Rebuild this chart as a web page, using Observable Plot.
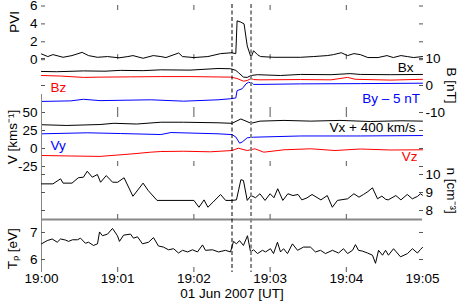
<!DOCTYPE html>
<html><head><meta charset="utf-8">
<script src="https://cdn.jsdelivr.net/npm/d3@7"></script>
<script src="https://cdn.jsdelivr.net/npm/@observablehq/plot@0.6"></script>
<style>
html,body{margin:0;padding:0;background:#fff;}
#chart{position:relative;width:463px;height:308px;overflow:hidden;background:#fff;}
#chart svg{position:absolute;left:0;top:0;}
</style></head><body><div id="chart"></div>
<script>
// ---- data (time in seconds after 19:00:00 UT, 01 Jun 2007) ----
const pviTime  = [0,5,9,17,24,28,32,37,44,52,61,68,72,80,88,94,98,108,111,120,131,141,150,153,154,157,159.5,162,165,167,170,172.5,183,204,214,225,230,236,241,246,251,257,265,272,277,283,288,293,300];
const pviValue = [0.64,0.35,0.57,0.27,0.46,0.64,0.82,0.46,0.27,0.35,0.21,0.35,0.46,0.16,0.46,0.35,0.24,0.75,0.35,0.24,0.35,0.68,0.78,0.67,4.34,4.2,4.0,1.54,0.24,1.0,0.57,0.35,0.27,0.27,0.35,0.46,0.57,0.78,0.46,0.68,0.57,0.24,0.24,0.46,0.24,0.46,0.35,0.24,0.35];

const bxTime  = [0,12,33,50,62,80,94,117,139,149,153,155,159,162,165,170,188,204,228,243,251,275,300];
const bxValue = [5.2,5.1,5.4,5.3,5.6,5.5,5.8,5.7,6.3,6.2,5.6,4.8,3.1,3.0,3.7,4.0,3.7,4.1,4.0,4.4,4.1,4.0,4.1];
const bzTime  = [0,15,33,46,70,94,117,149,154,159,162,165,167,172,204,228,241,247,275,300];
const bzValue = [3.7,3.5,3.0,3.1,3.2,3.3,3.3,3.1,2.6,1.6,1.85,2.6,2.2,2.1,2.2,2.1,3.0,2.3,2.0,2.3];
const byTime  = [0,23,33,46,86,112,139,149,153,154,158,161,163,166,167,172,204,251,300];
const byValue = [-5.9,-5.7,-5.1,-5.6,-5.3,-5.8,-5.3,-4.9,-4.6,-1.9,-1.2,0.6,1.2,0.85,0.4,0.4,0.6,0.7,0.85]; // By - 5 nT

const vxTime  = [0,20,46,57,75,94,112,139,150,157,165,172,191,212,235,259,283,300];
const vxValue = [33,32,33.3,35,34,36.5,36.5,35.7,35,41,35,38,39,38,39,37.5,38.5,38]; // Vx + 400 km/s
const vyTime  = [0,36,62,94,102,139,150,153,156,158,162,167,204,251,300];
const vyValue = [20.4,21.8,20.8,19.4,22.2,20.4,19.3,16,7.4,9,14.9,15.7,17.4,17.4,18];
const vzTime  = [0,23,46,72,86,94,112,133,150,155,162,168,175,191,212,231,251,275,300];
const vzValue = [-9.7,-10.4,-11,-7.4,-5.1,-4.2,-3.8,-4.6,-2.8,0.4,-2.8,-0.4,-5.1,-1.8,-0.4,-2.8,-0.7,-2.1,-1.8];

const nTime  = [0,9,15,17,24,29,33,36,40,44,46.5,51,56,60,65,72,80,84,91,120,124,128,131,135,141,145,150,153.5,157,159,162,165,168.5,172,176,180,183,186,190,194,198,202,205,209,213,220,225,229,233,241,246,250,253.5,257,260.6,264.6,268,271,273,279,283,288,292,296,298.4,300];
const nValue = [9.48,9.48,9.76,9.52,9.52,9.82,9.85,10.18,9.85,10.0,9.57,9.94,9.57,9.57,9.82,8.79,9.52,9.11,8.56,8.56,8.18,8.59,8.18,8.46,8.89,8.56,8.56,8.59,9.71,9.67,8.56,8.83,8.71,8.93,8.56,8.93,8.71,9.21,8.56,8.93,8.83,8.89,8.59,8.7,8.89,8.59,8.83,8.18,8.56,8.65,8.93,8.74,8.89,9.05,9.26,8.65,8.8,8.62,8.59,8.83,8.59,8.89,8.65,8.78,8.93,8.85];

const tpTime  = [0,4.5,8.4,12.4,15,18.9,21.3,24.4,28.3,30.7,34.6,37,40.9,44.1,45.7,48,52,55.9,59.8,61.4,64.6,70.1,72.4,75.6,79.5,84.3,88.2,92.1,96,100,104,107.9,111,115,118.9,122.8,126.8,129.1,134.6,139.4,144.9,148.8,151.2,153.5,155.9,159,162.2,164.6,167,170.1,174,176.4,180.3,182.7,185.8,188.2,190.6,193.7,197.6,201.6,206.3,211.8,215.7,219.7,223.6,229.1,233.9,237.8,241,244.9,247.2,249.6,252.8,256.7,260.6,263,265.4,268.5,270.9,273.2,277.2,282.7,288.2,292.1,296,298.4,300];
const tpValue = [6.58,6.70,6.76,6.64,6.76,6.72,6.67,6.73,6.73,6.79,6.60,6.64,6.52,6.58,7.02,6.88,6.94,7.15,6.88,6.67,6.90,6.94,6.79,6.84,6.58,6.64,6.81,6.50,6.46,6.36,6.40,6.24,6.34,6.28,6.36,6.28,6.54,6.34,6.36,6.28,6.34,6.28,6.67,6.58,6.70,6.52,6.88,6.28,6.36,6.22,6.34,6.28,6.40,6.22,6.64,6.28,6.40,6.22,6.58,6.34,6.46,6.46,6.28,6.34,6.22,6.34,6.24,6.40,6.22,6.34,6.55,6.34,6.31,6.24,6.16,5.86,6.34,6.16,6.34,6.16,6.40,6.10,6.22,6.40,6.24,6.37,6.45];

const eventTimes  = [150, 165];            // 19:02:30, 19:02:45
const eventColors = ["black", "#888888"];
const eventWidths = [1, 2];

const pviTicks = [0, 2, 4, 6];
const bTicks   = [-10, 0, 10];
const vTicks   = [-25, 0, 25, 50];
const nTicks   = [8, 9, 10];
const tpTicks  = [6, 7];
const minuteTickSec = [0, 60, 120, 180, 240, 300];
const innerMinuteSec = [60, 120, 180, 240];

const bLabels = [
  {text: "Bx", t: 293, v: 6.7, anchor: "end", color: "black"},
  {text: "Bz", t: 7, v: -0.8, anchor: "start", color: "red"},
  {text: "By \u2013 5 nT", t: 298, v: -4.8, anchor: "end", color: "blue"}
];
const vLabels = [
  {text: "Vx + 400 km/s", t: 294.5, v: 29, anchor: "end", color: "black"},
  {text: "Vy", t: 7, v: 4, anchor: "start", color: "blue"},
  {text: "Vz", t: 296, v: -11, anchor: "end", color: "red"}
];
const dateLabel = "01 Jun 2007 [UT]";

// ---- helpers ----
const t0 = Date.UTC(2007, 5, 1, 19, 0, 0);
const T = s => new Date(t0 + s * 1000);
const rows = (ts, vs) => ts.map((t, i) => ({t: T(t), v: vs[i]}));
const xDomain = [T(0), T(300)];
const minuteTicks = minuteTickSec.map(T);
const innerTicks = innerMinuteSec.map(T);
const W = 463, H = 308, ML = 41, MR = 41;
const TICK = "#555";
const SPINE = "#888";
const FONT = "'Liberation Sans', Arial, Helvetica, sans-serif";

function panel(top, bottom, yDomain, marks) {
  return Plot.plot({
    width: W, height: H,
    marginLeft: ML, marginRight: MR, marginTop: top, marginBottom: H - bottom,
    x: {type: "utc", domain: xDomain, axis: null},
    y: {domain: yDomain, axis: null},
    style: {background: "transparent", fontFamily: FONT, fontSize: "13.5px", overflow: "visible", color: "black"},
    marks
  });
}
const yTickMarks = ticks => ["left", "right"].map(a =>
  Plot.axisY({anchor: a, ticks, tickSize: -4, text: null, label: null, stroke: TICK}));
const yTickText = (ticks, anchor) =>
  Plot.axisY({anchor, ticks, tickSize: 0, tickPadding: anchor === "left" ? 4 : 3, tickFormat: d => String(d), label: null, fill: "black"});
const xTickMarks = anchors => anchors.map(a =>
  Plot.axisX({anchor: a, ticks: innerTicks, tickSize: -5, text: null, label: null, stroke: TICK}));
const line = (ts, vs, color) => Plot.line(rows(ts, vs), {x: "t", y: "v", stroke: color, strokeWidth: 1});
const seriesText = labels => ["start", "end"].map(a =>
  Plot.text(labels.filter(d => d.anchor === a), {x: d => T(d.t), y: "v", text: "text", fill: "color", textAnchor: a}));
const fmtMinute = d3.utcFormat("%H:%M");

const chart = document.getElementById("chart");

// PVI panel
chart.append(panel(5.5, 59.2, [0, 6], [
  ...yTickMarks(pviTicks),
  yTickText(pviTicks, "left"),
  ...xTickMarks(["bottom"]),
  Plot.axisX({anchor: "top", ticks: innerTicks, tickSize: -5, text: null, label: null, stroke: TICK, dy: -1.5}),
  line(pviTime, pviValue, "black"),
  Plot.text(["PVI"], {frameAnchor: "left", dx: -27, rotate: -90, text: d => d})
]));

// B panel
chart.append(panel(4, 112, [-10, 30], [
  ...yTickMarks(bTicks),
  yTickText(bTicks, "right"),
  ...xTickMarks(["bottom"]),
  line(bxTime, bxValue, "black"),
  line(bzTime, bzValue, "#ff0000"),
  line(byTime, byValue, "#0000ff"),
  ...seriesText(bLabels),
  Plot.text(["B [nT]"], {x: () => T(300), y: () => 0, dx: 29, rotate: 90, text: d => d})
]));

// V panel
chart.append(panel(94, 166, [-25, 75], [
  Plot.ruleX([T(0)], {stroke: SPINE}),
  ...yTickMarks(vTicks),
  yTickText(vTicks, "left"),
  ...xTickMarks(["bottom"]),
  line(vxTime, vxValue, "black"),
  line(vyTime, vyValue, "#0000ff"),
  line(vzTime, vzValue, "#ff0000"),
  ...seriesText(vLabels),
  Plot.text(["V [kms\u207B\u00B9]"], {x: () => T(0), y: () => 16, dx: -29, rotate: -90, text: d => d})
]));

// n panel
chart.append(panel(111, 219, [7.5, 13.5], [
  Plot.ruleX([T(0)], {stroke: SPINE}),
  Plot.ruleY([7.5], {stroke: SPINE, strokeWidth: 2}),
  ...yTickMarks(nTicks),
  yTickText(nTicks, "right"),
  ...xTickMarks(["top", "bottom"]),
  line(nTime, nValue, "black"),
  Plot.text(["n [cm\u207B\u00B3]"], {x: () => T(300), y: () => 9.1, dx: 29, rotate: 90, text: d => d})
]));

// Tp panel
chart.append(panel(219, 272, [5.52, 7.48], [
  Plot.ruleX([T(0)], {stroke: SPINE}),
  ...yTickMarks(tpTicks),
  yTickText(tpTicks, "left"),
  ...xTickMarks(["bottom"]),
  Plot.text(minuteTicks, {x: d => d, frameAnchor: "bottom", dy: 10, text: d => fmtMinute(d)}),
  line(tpTime, tpValue, "black"),
  Plot.text(["T\u209A [eV]"], {x: () => T(0), y: () => 6.4, dx: -29, rotate: -90, text: d => d}),
  Plot.text([dateLabel], {frameAnchor: "bottom", dy: 25, text: d => d})
]));

// event markers
chart.append(panel(4, 272, [0, 1], [
  Plot.ruleX(eventTimes.map((t, i) => ({t: T(t), c: eventColors[i], w: eventWidths[i]})),
    {x: "t", stroke: "c", strokeWidth: "w", strokeDasharray: "4,2.5"})
]));
</script>
</body></html>
